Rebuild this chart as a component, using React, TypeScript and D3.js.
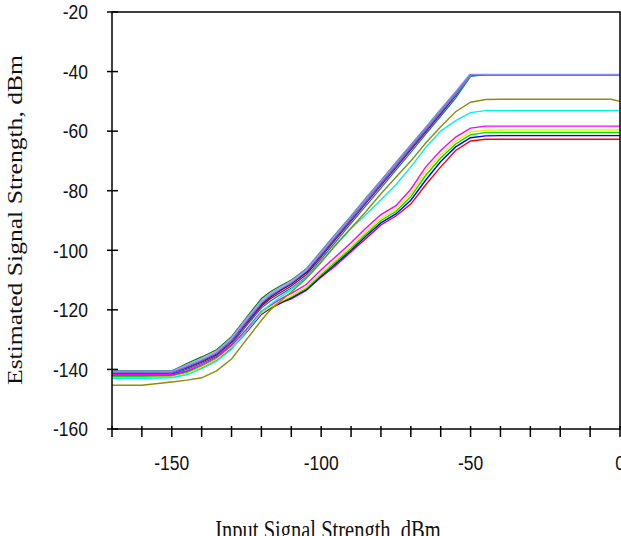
import React from "react";
import * as d3 from "d3";

// input levels (dBm) shared by every trace
const inputLevels = [-170, -160, -150, -145, -140, -135, -130, -125, -120, -117, -113, -110, -105, -100, -95, -90, -85, -80, -75, -70, -65, -60, -55, -50, -45, -40, -20, -3, 0];

// estimated output (dBm) per trace
const lightBlue = [-140.8, -140.8, -140.8, -138.8, -136.7, -134.2, -129.8, -123.3, -117.3, -114.8, -112.3, -110.6, -106.6, -100.8, -94.8, -88.9, -82.9, -77, -71, -65, -59.1, -53.1, -47.2, -41, -41, -41, -41, -41, -41];
const darkGreen = [-140.5, -140.5, -140.5, -138, -135.8, -133.4, -129, -122.5, -116.2, -113.9, -111.6, -110, -106.3, -100.3, -94.3, -88.5, -82.4, -76.6, -70.6, -64.7, -58.8, -52.8, -46.9, -41.1, -41, -41, -41, -41, -41];
const maroon = [-141, -141, -141, -139.3, -137.2, -134.8, -130.5, -124.2, -118.3, -115.8, -113.2, -111.4, -107.6, -101.6, -95.6, -89.6, -83.6, -77.7, -71.7, -65.8, -59.8, -53.8, -47.8, -41.3, -41, -41, -41, -41, -41];
const purple = [-141.3, -141.3, -141.2, -139.6, -137.6, -135.2, -131, -124.8, -118.8, -116.3, -113.8, -112, -108.2, -102.2, -96.2, -90.2, -84.2, -78.3, -72.3, -66.3, -60.3, -54.3, -48.2, -41.4, -41, -41, -41, -41, -41];
const teal = [-141.6, -141.6, -141.5, -140, -138, -135.7, -131.6, -125.4, -119.4, -117, -114.5, -112.7, -109, -103, -97, -91, -85, -79.1, -73.1, -67.1, -61, -55, -48.9, -41.6, -41, -41, -41, -41, -41];
const navy = [-141.2, -141.2, -141.2, -139, -137, -134.5, -130.2, -123.8, -117.8, -115.3, -112.8, -111, -107.3, -101.3, -95.3, -89.3, -83.3, -77.4, -71.4, -65.4, -59.5, -53.5, -47.5, -41.1, -41, -41, -41, -41, -41];
const olive = [-145.3, -145.3, -144.2, -143.6, -142.8, -140.5, -136.5, -130, -123.5, -120, -116.5, -114, -109.5, -104, -98, -92.5, -87, -81, -75.5, -70, -64, -58.5, -53.5, -50.3, -49.4, -49.3, -49.3, -49.3, -50];
const cyan = [-143, -143, -142.8, -141.8, -139.7, -137.2, -133.2, -127.2, -120.7, -118.2, -115.2, -113.2, -109.2, -103.7, -98.2, -92.7, -88, -83, -78, -72, -65.5, -60, -56.5, -53.8, -53.1, -53.1, -53.1, -53.1, -53.1];
const magenta = [-141.8, -141.8, -141.8, -140.5, -138.5, -136, -132, -126.5, -120.5, -118.5, -116, -114.5, -111.5, -106.5, -102, -97.5, -92.5, -88, -85, -79.5, -72, -66.5, -62, -59, -58.3, -58.3, -58.3, -58.3, -58.3];
const yellow = [-142.8, -142.8, -142.6, -141.4, -139.2, -136.6, -132.5, -127, -121, -119, -116.8, -115.3, -112.4, -107.6, -103.2, -98.7, -93.8, -89.3, -86.3, -81, -73.6, -68, -63.4, -60.3, -59.7, -59.6, -59.6, -59.6, -59.6];
const green = [-142.3, -142.3, -142.2, -141, -139, -136.4, -132.5, -127, -121.1, -119.2, -117, -115.6, -112.8, -108.2, -103.8, -99.3, -94.5, -90, -87, -82, -74.8, -69, -64.3, -61.2, -60.5, -60.4, -60.4, -60.4, -60.4];
const blue = [-141.5, -141.5, -141.6, -140.7, -139.1, -136.6, -132.7, -127.2, -121.3, -119.4, -117.3, -116, -113.2, -108.7, -104.4, -100, -95.2, -90.8, -87.8, -83.2, -76.4, -70.2, -65.3, -62.2, -61.6, -61.5, -61.5, -61.5, -61.5];
const red = [-142, -142, -142, -141, -139.5, -137, -133, -127.5, -121.5, -119.5, -117.5, -116.3, -113.5, -109, -105, -100.5, -96, -91.5, -88.5, -84.5, -78, -72, -66.5, -63.3, -62.7, -62.7, -62.7, -62.7, -62.7];

const xTicks = d3.range(-170, 1, 10);
const xLabels = [-150, -100, -50, 0];
const yTicks = [-20, -40, -60, -80, -100, -120, -140, -160];

// drawing order, last on top
const traces = [
  { values: darkGreen, color: "#008000", width: 1.2 },
  { values: maroon, color: "#800000", width: 1.2 },
  { values: purple, color: "#800080", width: 1.2 },
  { values: teal, color: "#008080", width: 1.2 },
  { values: navy, color: "#000080", width: 1.2 },
  { values: red, color: "#ff0000", width: 1.4 },
  { values: blue, color: "#0000ff", width: 1.4 },
  { values: green, color: "#00e000", width: 1.4 },
  { values: yellow, color: "#eeee00", width: 1.4 },
  { values: magenta, color: "#ff00ff", width: 1.4 },
  { values: cyan, color: "#00f0f0", width: 1.4 },
  { values: olive, color: "#8f8a10", width: 1.4 },
];

const W = 621;
const H = 536;
const left = 112, right = 620, top = 12, bottom = 429;

export default function App() {
  const x = d3.scaleLinear().domain([-170, 0]).range([left, right]);
  const y = d3.scaleLinear().domain([-160, -20]).range([bottom, top]);
  const line = d3
    .line<number>()
    .x((_, i) => x(inputLevels[i]))
    .y((d) => y(d));
  // the light blue trace: wide pale band on the slope, thin on the plateau
  const slopePart = d3
    .line<number>()
    .defined((_, i) => inputLevels[i] <= -50)
    .x((_, i) => x(inputLevels[i]))
    .y((d) => y(d));
  const flatPart = d3
    .line<number>()
    .defined((_, i) => inputLevels[i] >= -50)
    .x((_, i) => x(inputLevels[i]))
    .y((d) => y(d));

  const tickFont = "'Liberation Sans', Arial, sans-serif";
  const titleFont = "'Liberation Serif', 'Times New Roman', serif";

  return (
    <svg
      width={W}
      height={H}
      style={{ position: "absolute", left: 0, top: 0, background: "#fff" }}
    >
      <rect x={0} y={0} width={W} height={H} fill="#fff" />

      {traces.map((t, i) => (
        <path key={i} d={line(t.values) || ""} fill="none" stroke={t.color} strokeWidth={t.width} />
      ))}
      <path
        d={slopePart(lightBlue) || ""}
        fill="none"
        stroke="#8c8cff"
        strokeWidth={3.2}
        strokeOpacity={0.8}
        strokeLinejoin="round"
      />
      <path d={flatPart(lightBlue) || ""} fill="none" stroke="#8c8cff" strokeWidth={1.8} />

      {/* frame */}
      <path
        d={`M${left},${top}H${right}V${bottom}H${left}Z`}
        fill="none"
        stroke="#000"
        strokeWidth={1.5}
      />

      {/* y axis */}
      {yTicks.map((v) => (
        <g key={v}>
          <line x1={left - 5} x2={left + 6} y1={y(v)} y2={y(v)} stroke="#000" strokeWidth={1.5} />
          <text
            transform={`translate(88,${y(v)}) scale(1,1.15)`}
            dy="0.36em"
            textAnchor="end"
            fontFamily={tickFont}
            fontSize={17.5}
            fill="#111"
          >
            {v}
          </text>
        </g>
      ))}

      {/* x axis */}
      {xTicks.map((v) => (
        <line key={v} x1={x(v)} x2={x(v)} y1={bottom - 3} y2={bottom + 8} stroke="#000" strokeWidth={1.5} />
      ))}
      {xLabels.map((v) => (
        <text
          key={v}
          transform={`translate(${x(v)},463) scale(1,1.15)`}
          dy="0.36em"
          textAnchor="middle"
          fontFamily={tickFont}
          fontSize={17.5}
          fill="#111"
        >
          {v}
        </text>
      ))}

      <text
        transform={`translate(22,220) scale(1,1.25) rotate(-90)`}
        textAnchor="middle"
        fontFamily={titleFont}
        fontSize={20.5}
        fill="#111"
      >
        Estimated Signal Strength, dBm
      </text>
      <text
        transform={`translate(328,539) scale(1,1.35)`}
        textAnchor="middle"
        fontFamily={titleFont}
        fontSize={20.5}
        fill="#111"
      >
        Input Signal Strength, dBm
      </text>
    </svg>
  );
}
